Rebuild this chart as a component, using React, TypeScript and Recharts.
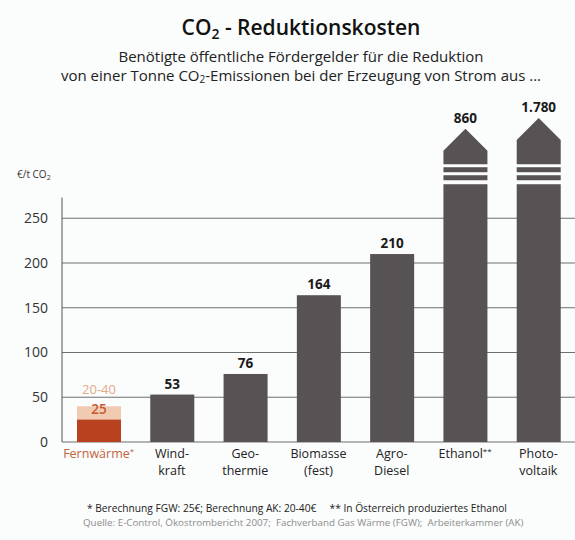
import React from 'react';
import { BarChart, Bar, XAxis, YAxis, CartesianGrid, LabelList, ReferenceLine } from 'recharts';

// categories (two-line labels split on \n)
const categories = [
  'Fernwärme*',
  'Wind-\nkraft',
  'Geo-\nthermie',
  'Biomasse\n(fest)',
  'Agro-\nDiesel',
  'Ethanol**',
  'Photo-\nvoltaik',
];

// € per tonne CO2
const costs = [25, 53, 76, 164, 210, 860, 1780];
const costLabels = ['25', '53', '76', '164', '210', '860', '1.780'];

// Fernwärme: FGW 25 €, AK 20-40 €
const akRange: (number[] | null)[] = [[20, 40], null, null, null, null, null, null];
const akRangeLabels = ['20-40', null, null, null, null, null, null];

// shown height of the two bars that go off the scale (axis break)
const brokenShown = [null, null, null, null, null, 350, 362];

const yTicks = [0, 50, 100, 150, 200, 250];

const FONT = '"Open Sans", sans-serif';
const GREY_BAR = '#575253';
const FW_DARK = '#b8421f';
const FW_LIGHT = '#f1cab2';
const AXIS_BREAK = 288;
const AXIS_TOP = 273;

const data = categories.map((name, i) => ({
  name,
  cost: costs[i],
  label: costLabels[i],
  shown: brokenShown[i] ?? costs[i],
  broken: brokenShown[i] != null,
  range: akRange[i],
  rangeLabel: akRangeLabels[i],
}));

const BarShape = (props: any) => {
  const { x, y, width, height, payload, index } = props;
  const fill = index === 0 ? FW_DARK : GREY_BAR;
  if (!payload.broken) {
    return <rect x={x} y={y} width={width} height={height} fill={fill} />;
  }
  const bottom = y + height;
  const ppu = height / payload.shown;
  const lowTop = bottom - AXIS_BREAK * ppu;
  const shoulder = y + 22;
  const upperBottom = lowTop - 20;
  return (
    <g fill={fill}>
      <rect x={x} y={lowTop} width={width} height={bottom - lowTop} />
      <rect x={x} y={lowTop - 9} width={width} height={5} />
      <rect x={x} y={lowTop - 17} width={width} height={5} />
      <path
        d={`M${x},${upperBottom} L${x},${shoulder} L${x + width / 2},${y} L${x + width},${shoulder} L${x + width},${upperBottom} Z`}
      />
    </g>
  );
};

const ValueLabel = (props: any) => {
  const { x, y, width, value, index } = props;
  if (value == null) return null;
  const fw = index === 0;
  return (
    <text
      x={x + width / 2}
      y={y - 6}
      textAnchor="middle"
      fontFamily={FONT}
      fontSize={13.5}
      fontWeight={fw ? 600 : 700}
      fill={fw ? '#c9582f' : '#1a1a1a'}
    >
      {value}
    </text>
  );
};

const RangeLabel = (props: any) => {
  const { x, y, width, value } = props;
  if (value == null) return null;
  return (
    <text x={x + width / 2} y={y - 12} textAnchor="middle" fontFamily={FONT} fontSize={13} fill="#e3ab88">
      {value}
    </text>
  );
};

const CategoryTick = (props: any) => {
  const { x, y, payload, index } = props;
  const lines = String(payload.value).split('\n');
  return (
    <text
      x={x}
      y={y}
      textAnchor="middle"
      fontFamily={FONT}
      fontSize={12.5}
      fill={index === 0 ? '#c4633b' : '#222'}
    >
      {lines.map((l, i) => {
        const m = l.match(/^(.*?)(\*+)$/);
        return (
          <tspan key={i} x={x} dy={i === 0 ? 16 : 17}>
            {m ? m[1] : l}
            {m && (
              <tspan fontSize={8} dy={-4}>
                {m[2]}
              </tspan>
            )}
          </tspan>
        );
      })}
    </text>
  );
};

const abs = (left: number, top: number, extra: React.CSSProperties = {}): React.CSSProperties => ({
  position: 'absolute',
  left,
  top,
  whiteSpace: 'nowrap',
  fontFamily: FONT,
  ...extra,
});

export default function App() {
  return (
    <div style={{ position: 'absolute', left: 0, top: 0, width: 575, height: 540, background: '#fbfcfc', overflow: 'hidden' }}>
      <div style={abs(301, 13, { transform: 'translateX(-50%)', fontSize: 21, fontWeight: 600, color: '#111' })}>
        CO<span style={{ fontSize: 14, position: 'relative', top: 4 }}>2</span> - Reduktionskosten
      </div>
      <div style={abs(301, 47, { transform: 'translateX(-50%)', fontSize: 15, color: '#222', textAlign: 'center', lineHeight: '19px' })}>
        Benötigte öffentliche Fördergelder für die Reduktion
        <br />
        von einer Tonne CO<span style={{ fontSize: 10, position: 'relative', top: 2 }}>2</span>-Emissionen bei der Erzeugung von Strom aus ...
      </div>
      <div style={abs(17, 167, { fontSize: 10, color: '#333' })}>
        €/t CO<span style={{ fontSize: 7, position: 'relative', top: 2 }}>2</span>
      </div>

      <BarChart
        width={575}
        height={540}
        data={data}
        margin={{ top: 118, right: 0, left: 22, bottom: 58 }}
        barSize={44}
      >
        <CartesianGrid vertical={false} horizontalValues={yTicks} stroke="#6e6e6e" strokeWidth={1} />
        <XAxis
          dataKey="name"
          axisLine={false}
          tickLine={false}
          tickSize={0}
          tickMargin={0}
          height={40}
          interval={0}
          tick={<CategoryTick />}
        />
        <XAxis xAxisId="range" dataKey="name" hide />
        <YAxis
          domain={[0, 'dataMax']}
          ticks={yTicks}
          width={40}
          axisLine={false}
          tickLine={false}
          tickSize={0}
          tickMargin={14}
          tick={{ fontFamily: FONT, fontSize: 14, fill: '#333' }}
        />
        <ReferenceLine
          segment={[
            { x: categories[0], y: 0 },
            { x: categories[0], y: AXIS_TOP },
          ]}
          position="start"
          stroke="#555"
          strokeWidth={1}
        />
        <Bar xAxisId="range" dataKey="range" fill={FW_LIGHT} isAnimationActive={false}>
          <LabelList dataKey="rangeLabel" content={<RangeLabel />} />
        </Bar>
        <Bar dataKey="shown" shape={<BarShape />} isAnimationActive={false}>
          <LabelList dataKey="label" content={<ValueLabel />} />
        </Bar>
      </BarChart>

      <div style={abs(87, 501, { fontSize: 10.2, color: '#222' })}>
        * Berechnung FGW: 25€; Berechnung AK: 20-40€&nbsp;&nbsp;&nbsp;&nbsp;&nbsp;** In Österreich produziertes Ethanol
      </div>
      <div style={abs(83, 516, { fontSize: 9.8, color: '#8d8d8d' })}>
        Quelle: E-Control, Ökostrombericht 2007;&nbsp; Fachverband Gas Wärme (FGW);&nbsp; Arbeiterkammer (AK)
      </div>
    </div>
  );
}
